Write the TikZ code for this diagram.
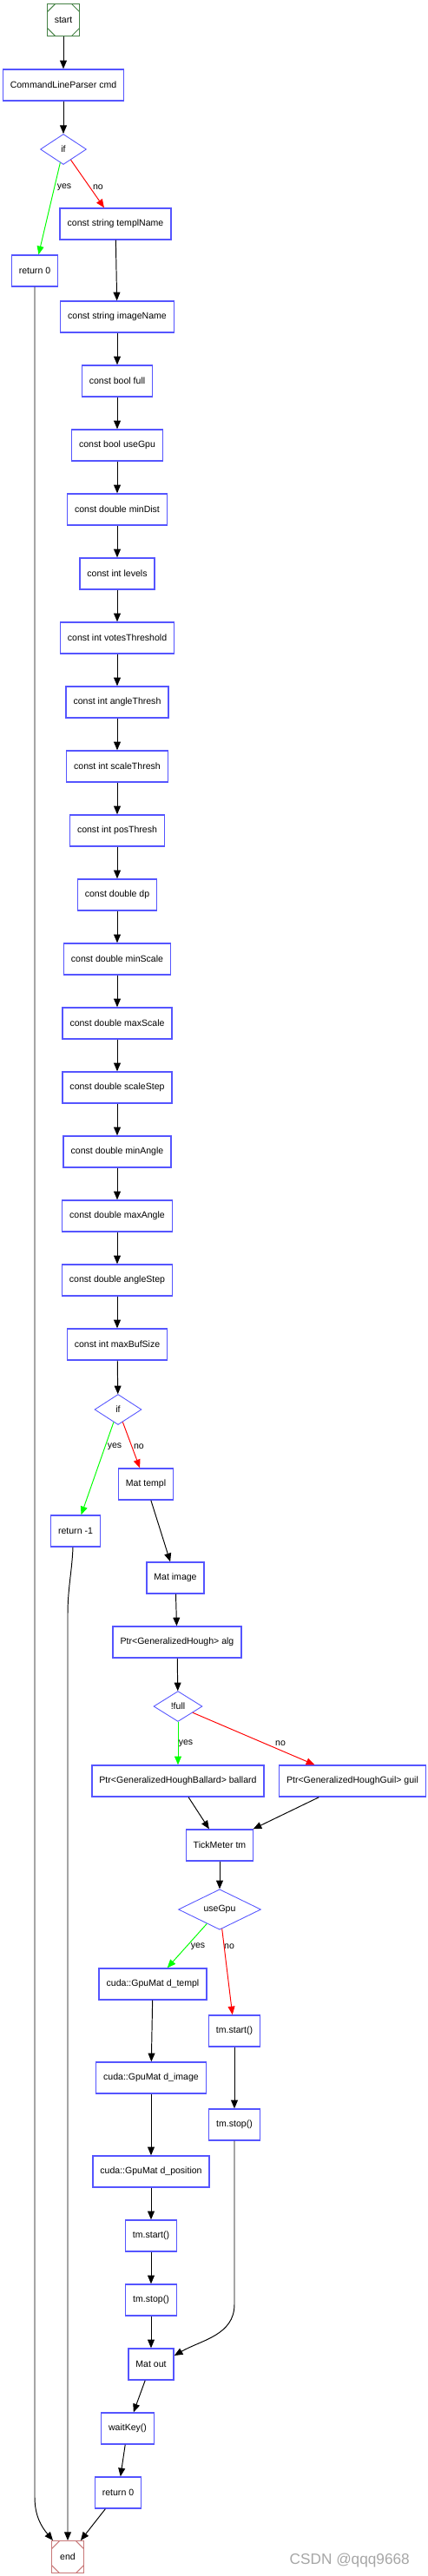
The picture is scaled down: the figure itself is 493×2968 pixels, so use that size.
\documentclass[tikz,border=0pt]{standalone}
\usepackage{fontspec}
\setmainfont{Liberation Sans}
\usetikzlibrary{shapes.geometric, arrows.meta}
\definecolor{boxblue}{RGB}{85,85,255}
\definecolor{startgreen}{RGB}{70,130,70}
\definecolor{endred}{RGB}{200,120,120}
\definecolor{yesgreen}{RGB}{0,255,0}
\definecolor{nored}{RGB}{255,0,0}
\begin{document}
\begin{tikzpicture}[x=0.02cm, y=-0.02cm, font=\fontsize{6}{7}\selectfont,
    stmt/.style={draw=boxblue, line width=0.8pt, inner xsep=0.17cm, minimum height=0.72cm},
    cond/.style={diamond, draw=boxblue, line width=0.5pt, inner sep=0pt,
        minimum height=0.7cm, minimum width=#1},
    cond/.default=1.06cm,
    term/.style={draw=#1, line width=0.6pt, minimum size=0.74cm, inner sep=0pt,
        path picture={
            \draw[#1, line width=0.6pt]
                ([xshift=0.18cm]path picture bounding box.north west) -- ([yshift=-0.18cm]path picture bounding box.north west)
                ([xshift=-0.18cm]path picture bounding box.north east) -- ([yshift=-0.18cm]path picture bounding box.north east)
                ([xshift=0.18cm]path picture bounding box.south west) -- ([yshift=0.18cm]path picture bounding box.south west)
                ([xshift=-0.18cm]path picture bounding box.south east) -- ([yshift=0.18cm]path picture bounding box.south east);
        }},
    arr/.style={-{Triangle[length=5.5pt, width=4.5pt]}, line width=0.55pt},
    yesarr/.style={arr, yesgreen},
    noarr/.style={arr, nored},
    lbl/.style={inner sep=0pt}]
    \useasboundingbox (0,0) rectangle (493,2968);

    % start and parser
    \node[term=startgreen] (start) at (73,23) {start};
    \node[stmt] (cmd) at (73,98) {CommandLineParser cmd};
    \node[cond] (if1) at (73,172) {if};
    \node[stmt] (ret1) at (40,312) {return 0};
    \node[stmt] (templName) at (133,258) {const string templName};
    \node[lbl] (yes1) at (74,216) {yes};
    \node[lbl] (no1) at (113,216) {no};

    \draw[arr] (start) -- (cmd);
    \draw[arr] (cmd) -- (if1);
    \draw[yesarr] (if1) -- (ret1);
    \draw[noarr] (if1) -- (templName);

    % constants, one under the other
    \foreach \n/\t [count=\i from 0, remember=\n as \prev (initially templName)] in {
        imageName/const string imageName, full/const bool full, useGpu/const bool useGpu,
        minDist/const double minDist, levels/const int levels, votes/const int votesThreshold,
        angleTh/const int angleThresh, scaleTh/const int scaleThresh, posTh/const int posThresh,
        dp/const double dp, minScale/const double minScale, maxScale/const double maxScale,
        scaleStep/const double scaleStep, minAngle/const double minAngle,
        maxAngle/const double maxAngle, angleStep/const double angleStep,
        maxBuf/const int maxBufSize} {
        \node[stmt] (\n) at (135,{365+74*\i}) {\t};
        \draw[arr] (\prev) -- (\n);
    }

    % second test
    \node[cond=1.08cm] (if2) at (136,1624) {if};
    \node[stmt] (ret2) at (87,1764) {return -1};
    \node[stmt] (templ) at (168,1710) {Mat templ};
    \node[lbl] (yes2) at (132,1667) {yes};
    \node[lbl] (no2) at (160,1667) {no};

    \draw[arr] (maxBuf) -- (if2);
    \draw[yesarr] (if2) -- (ret2);
    \draw[noarr] (if2) -- (templ);

    % algorithm
    \node[stmt] (image) at (202,1818) {Mat image};
    \node[stmt] (alg) at (204,1892) {Ptr<GeneralizedHough> alg};
    \node[cond=1.12cm] (ifFull) at (205,1966) {!full};
    \node[stmt] (ballard) at (205,2052) {Ptr<GeneralizedHoughBallard> ballard};
    \node[stmt] (guil) at (406,2052) {Ptr<GeneralizedHoughGuil> guil};
    \node[stmt] (tm) at (253,2126) {TickMeter tm};
    \node[lbl] (yes3) at (214,2009) {yes};
    \node[lbl] (no3) at (323,2009) {no};

    \draw[arr] (templ) -- (image);
    \draw[arr] (image) -- (alg);
    \draw[arr] (alg) -- (ifFull);
    \draw[yesarr] (ifFull) -- (ballard);
    \draw[noarr] (ifFull) -- (guil);
    \draw[arr] (ballard) -- (tm);
    \draw[arr] (guil) -- (tm);

    % gpu or cpu
    \node[cond=1.9cm] (ifGpu) at (253,2200) {useGpu};
    \node[stmt] (dTempl) at (176,2286) {cuda::GpuMat d\_templ};
    \node[stmt] (dImage) at (174,2394) {cuda::GpuMat d\_image};
    \node[stmt] (dPos) at (174,2502) {cuda::GpuMat d\_position};
    \node[stmt] (start1) at (174,2576) {tm.start()};
    \node[stmt] (stop1) at (174,2650) {tm.stop()};
    \node[stmt] (start2) at (270,2340) {tm.start()};
    \node[stmt] (stop2) at (270,2448) {tm.stop()};
    \node[lbl] (yes4) at (228,2243) {yes};
    \node[lbl] (no4) at (264,2243) {no};

    \draw[arr] (tm) -- (ifGpu);
    \draw[yesarr] (ifGpu) -- (dTempl);
    \draw[noarr] (ifGpu) -- (start2);
    \draw[arr] (dTempl) -- (dImage);
    \draw[arr] (dImage) -- (dPos);
    \draw[arr] (dPos) -- (start1);
    \draw[arr] (start1) -- (stop1);
    \draw[arr] (start2) -- (stop2);

    % result and end
    \node[stmt] (out) at (174,2724) {Mat out};
    \node[stmt] (wait) at (147,2798) {waitKey()};
    \node[stmt] (ret3) at (136,2872) {return 0};
    \node[term=endred] (end) at (78,2946) {end};

    \coordinate (bendCpu) at (270,2655);
    \coordinate (bendRet1) at (40,2877);
    \coordinate (bendRet2) at (78,1860);

    \draw[arr] (stop1) -- (out);
    \draw[arr] (stop2.south) -- (bendCpu) to[out=-90, in=30] ([yshift=0.2cm]out.east);
    \draw[arr] (out) -- (wait);
    \draw[arr] (wait) -- (ret3);
    \draw[arr] (ret3) -- (end);
    \draw[arr] (ret1.south) -- (bendRet1) to[out=-90, in=130] ([xshift=0.04cm]end.north west);
    \draw[arr] ([xshift=-0.06cm]ret2.south) .. controls (83,1810) and (78,1830) .. (bendRet2) -- (end.north);

    \node[text=black!35, font=\fontsize{9.8}{11}\selectfont, anchor=east] (mark) at (478,2950) {CSDN @qqq9668};
\end{tikzpicture}
\end{document}
